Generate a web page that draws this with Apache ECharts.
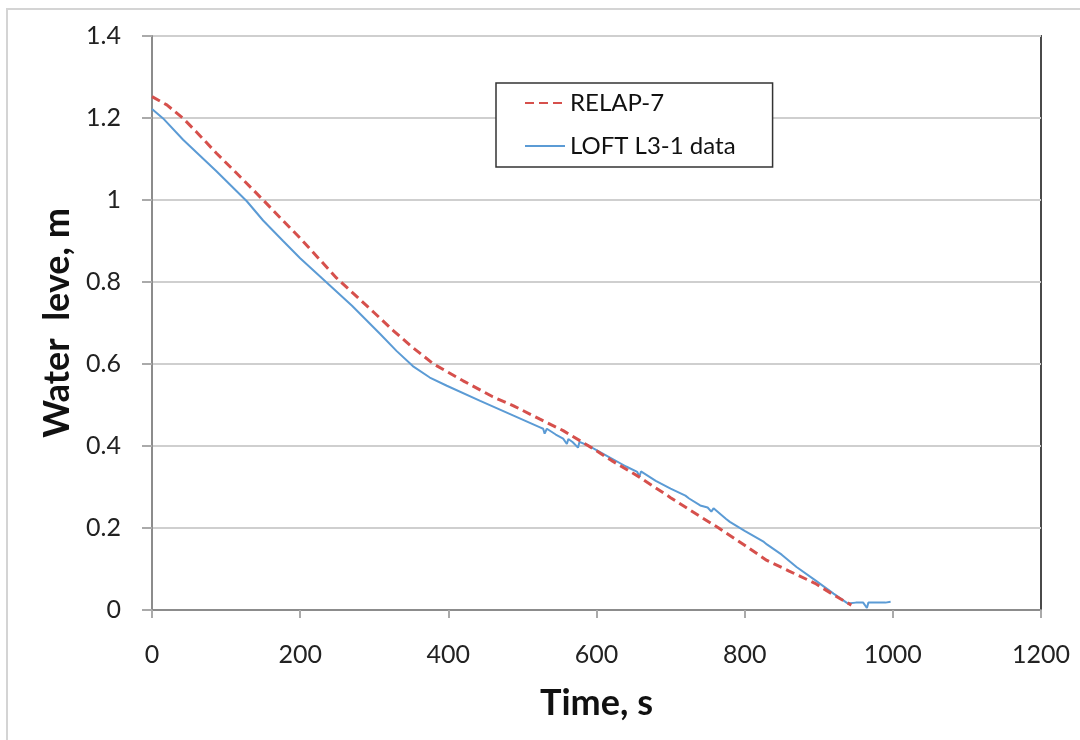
<!DOCTYPE html>
<html><head><meta charset="utf-8">
<script src="https://cdn.jsdelivr.net/npm/echarts@6/dist/echarts.min.js"></script>
<style>html,body{margin:0;padding:0;background:#fff}#c{width:1080px;height:740px}</style>
</head><body><div id="c"></div>
<script>
const xTicks = [0, 200, 400, 600, 800, 1000, 1200];
const yTicks = [0, 0.2, 0.4, 0.6, 0.8, 1, 1.2, 1.4];

const relapTime = [0, 20, 42, 60, 87, 120, 150, 175, 200, 249, 300, 326, 350, 380, 420, 460, 488, 523, 555, 595, 620, 658, 700, 740, 765, 800, 830, 860, 895, 920, 944];
const relapLevel = [1.252, 1.232, 1.199, 1.166, 1.114, 1.055, 1.0, 0.953, 0.907, 0.81, 0.725, 0.681, 0.643, 0.6, 0.559, 0.52, 0.498, 0.466, 0.4375, 0.394, 0.365, 0.324, 0.274, 0.228, 0.2, 0.158, 0.121, 0.095, 0.065, 0.037, 0.012];

const loftTime = [0, 15, 42, 87, 128, 150, 177, 200, 235, 270, 308, 330, 352, 375, 398, 443, 488, 523, 528, 530, 533, 545, 555, 560, 562, 568, 575, 577, 590, 600, 620, 640, 655, 658, 660, 680, 700, 720, 725, 740, 750, 755, 758, 775, 780, 800, 826, 830, 850, 870, 895, 920, 939, 950, 960, 965, 967, 990, 997];
const loftLevel = [1.222, 1.199, 1.147, 1.07, 0.997, 0.95, 0.9, 0.858, 0.8, 0.742, 0.673, 0.632, 0.595, 0.567, 0.547, 0.51, 0.474, 0.446, 0.442, 0.43, 0.442, 0.428, 0.418, 0.405, 0.417, 0.409, 0.396, 0.41, 0.4, 0.39, 0.37, 0.35, 0.337, 0.325, 0.338, 0.315, 0.296, 0.279, 0.272, 0.255, 0.25, 0.24, 0.248, 0.222, 0.215, 0.193, 0.166, 0.16, 0.135, 0.105, 0.073, 0.04, 0.016, 0.018, 0.018, 0.005, 0.018, 0.018, 0.02];

const seriesNames = ['RELAP-7', 'LOFT L3-1 data'];

const FONT = 'Lato, "Open Sans", sans-serif';
const chart = echarts.init(document.getElementById('c'), null, {renderer: 'canvas'});
chart.setOption({
  animation: false,
  backgroundColor: '#fff',
  graphic: [{
    type: 'rect', z: -10,
    shape: {x: 7, y: 9, width: 1200, height: 900},
    style: {fill: 'none', stroke: '#d4d4d4', lineWidth: 2}
  }],
  grid: {left: 152, right: 39, top: 36, bottom: 130, show: true, borderColor: '#4a4a4a', borderWidth: 2, backgroundColor: 'transparent'},
  legend: {
    orient: 'vertical', left: 496, top: 83,
    padding: [7, 37, 8, 28], itemGap: 17, itemWidth: 40, itemHeight: 14,
    borderColor: '#333', borderWidth: 1.5, backgroundColor: '#fff',
    itemStyle: {opacity: 0},
    textStyle: {fontFamily: FONT, fontSize: 24, color: '#111', lineHeight: 26},
    data: seriesNames
  },
  xAxis: {
    type: 'value', min: xTicks[0], max: xTicks[xTicks.length - 1], interval: 200,
    name: 'Time, s', nameLocation: 'middle', nameGap: 75,
    nameTextStyle: {fontFamily: FONT, fontSize: 36, fontWeight: 'bold', color: '#111'},
    axisLine: {lineStyle: {color: '#8c8c8c', width: 2}},
    axisTick: {show: true, length: 8, lineStyle: {color: '#aaa', width: 2}},
    axisLabel: {fontFamily: FONT, fontSize: 25, color: '#222', margin: 32,
      formatter: v => String(v)},
    splitLine: {show: false}
  },
  yAxis: {
    type: 'value', min: yTicks[0], max: yTicks[yTicks.length - 1], interval: 0.2,
    name: 'Water  leve, m', nameLocation: 'middle', nameGap: 67, nameRotate: 90,
    nameTextStyle: {fontFamily: FONT, fontSize: 36, fontWeight: 'bold', color: '#111'},
    axisLine: {show: true, lineStyle: {color: '#8c8c8c', width: 2}},
    axisTick: {show: true, length: 10, lineStyle: {color: '#aaa', width: 2}},
    axisLabel: {fontFamily: FONT, fontSize: 25, color: '#222', margin: 31,
      formatter: v => String(Math.round(v * 10) / 10)},
    splitLine: {show: true, lineStyle: {color: '#cfcfcf', width: 2}}
  },
  series: [
    {
      name: seriesNames[0], type: 'line', symbol: 'none', z: 3,
      data: relapTime.map((t, i) => [t, relapLevel[i]]),
      lineStyle: {color: '#d6504c', width: 3, type: [9, 5]},
      itemStyle: {color: '#d6504c'}
    },
    {
      name: seriesNames[1], type: 'line', symbol: 'none', z: 2,
      data: loftTime.map((t, i) => [t, loftLevel[i]]),
      lineStyle: {color: '#5b9bd5', width: 2},
      itemStyle: {color: '#5b9bd5'}
    }
  ]
});
</script></body></html>
